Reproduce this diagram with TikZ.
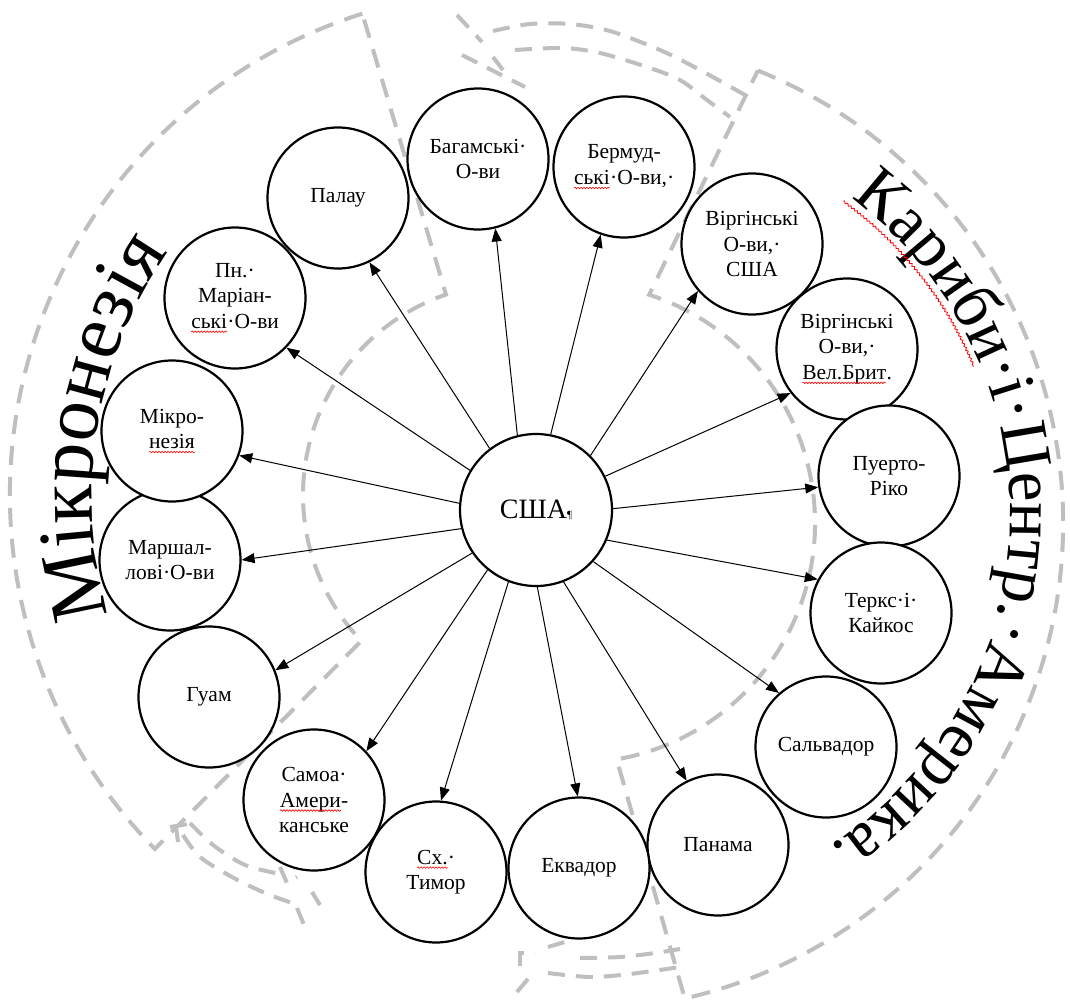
\documentclass[tikz,border=0pt]{standalone}
\usepackage{fontspec}
\setmainfont{Liberation Serif}
\usetikzlibrary{arrows.meta,decorations.text,decorations.pathmorphing}
\definecolor{dgray}{RGB}{191,191,191}
\newcommand\rwv[1]{\tikz[baseline=(w.base)]{\node[shape=rectangle,draw=none,fill=none,minimum size=0pt,inner sep=0pt,outer sep=0pt,anchor=base](w){#1};\draw[red,line width=0.6pt,decorate,decoration={snake,amplitude=0.8pt,segment length=3pt}]([yshift=-3.5pt]w.base west)--([yshift=-3.5pt]w.base east);}}
\begin{document}
\begin{tikzpicture}[x=1pt,y=1pt,
  cnode/.style={circle, draw, line width=2.2pt, fill=white, minimum size=141pt,
    inner sep=0pt, align=center, font=\fontsize{21.5}{25.5}\selectfont},
  arr/.style={line width=1pt, -{Triangle[length=13pt,width=10pt]}},
  dsh/.style={draw=dgray, line width=4pt, dash pattern=on 19pt off 12pt},
  frag/.style={draw=dgray, line width=4pt, dash pattern=on 17pt off 11pt}]
\useasboundingbox (0,0) rectangle (1070,-1003);

% dashed block arcs
\draw[dsh] ([shift={(515,-495)}]107.6:505) arc[start angle=107.6,end angle=224.5,radius=505]
  -- ([shift={(515,-495)}]223.5:212) arc[start angle=223.5,end angle=109,radius=212] -- cycle;
\draw[dsh] ([shift={(575,-523)}]68:488) arc[start angle=68,end angle=-77,radius=488]
  -- ([shift={(575,-523)}]-80:240) arc[start angle=-80,end angle=72,radius=240] -- cycle;

% top fragment
\draw[frag] (457,-15) -- (482,-42);
\draw[frag] plot[smooth] coordinates {(493,-31) (530,-24) (570,-24) (610,-31) (660,-50) (700,-70) (745,-95)};
\draw[frag] (462,-55) -- (525,-87);
\draw[frag] (493,-57) -- (503,-70);
\draw[frag] plot[smooth] coordinates {(515,-50) (563,-48) (600,-53) (647,-67) (680,-80) (707,-100) (730,-117)};
% bottom-left fragment
\draw[frag] (170,-827) -- (188,-824);
\draw[frag] (176,-827) -- (178,-842);
\draw[frag] plot[smooth] coordinates {(183,-835) (200,-857) (232,-877) (265,-893) (292,-903)};
\draw[frag] plot[smooth] coordinates {(190,-823) (213,-845) (245,-865) (280,-874)};
\draw[frag] (280,-867) -- (287,-883) -- (297,-877);
\draw[frag] (297,-908) -- (307,-932);
\draw[frag] (312,-892) -- (320,-905);
% bottom fragment
\draw[frag] (520,-966) -- (520,-953) -- (535,-953);
\draw[frag] (548,-947) -- (568,-941);
\draw[frag] plot[smooth] coordinates {(580,-958) (620,-957) (655,-953) (680,-949)};
\draw[frag] (517,-992) -- (533,-973);
\draw[frag] plot[smooth] coordinates {(548,-973) (590,-977) (630,-974) (680,-967)};

% nodes
\node[cnode, minimum size=152pt, font=\fontsize{28}{30}\selectfont] (usa) at (536,-510) {США{\fontsize{11}{11}\selectfont¶}};
\node[cnode] (pal) at (338,-198) {Палау};
\node[cnode] (bah) at (478,-159) {Багамські·\\О-ви};
\node[cnode] (ber) at (624,-167) {Бермуд-\\\rwv{ські}·О-ви,·};
\node[cnode] (vus) at (752,-244) {Віргінські\\О-ви,·\\США};
\node[cnode] (vbb) at (847,-349) {Віргінські\\О-ви,·\\\rwv{Вел.Брит}.};
\node[cnode] (pr) at (889,-476) {Пуерто-\\Ріко};
\node[cnode] (tc) at (881,-613) {Теркс·і·\\Кайкос};
\node[cnode] (sal) at (826,-747) {Сальвадор};
\node[cnode] (pan) at (718,-845) {Панама};
\node[cnode] (ecu) at (579,-868) {Еквадор};
\node[cnode] (tim) at (436,-872) {\rwv{Сх.}·\\Тимор};
\node[cnode] (sam) at (314,-800) {Самоа·\\\rwv{Амери}-\\канське};
\node[cnode] (gua) at (209,-697) {Гуам};
\node[cnode] (mar) at (170,-560) {Маршал-\\лові·О-ви};
\node[cnode] (mic) at (172,-431) {Мікро-\\\rwv{незія}};
\node[cnode] (nmi) at (235,-298) {Пн.·\\Маріан-\\\rwv{ські}·О-ви};

% arrows
\draw[arr] (usa.127) -- (pal.-64.5);
\draw[arr] (usa.104) -- (bah.-76);
\draw[arr] (usa.79.5) -- (ber.-109);
\draw[arr] (usa.45) -- (vus.-139);
\draw[arr] (usa.26) -- (vbb.-142);
\draw[arr] (usa.1) -- (pr.-171);
\draw[arr] (usa.-23) -- (tc.152);
\draw[arr] (usa.-42.5) -- (sal.131);
\draw[arr] (usa.-69.5) -- (pan.116);
\draw[arr] (usa.-89) -- (ecu.91);
\draw[arr] (usa.249.5) -- (tim.86);
\draw[arr] (usa.231.5) -- (sam.43);
\draw[arr] (usa.214) -- (gua.22);
\draw[arr] (usa.194.5) -- (mar.0);
\draw[arr] (usa.175.5) -- (mic.-20.6);
\draw[arr] (usa.149) -- (nmi.-44.5);

% curved titles
\path[decorate, decoration={text along path,
   text={|\fontsize{80}{80}\selectfont|Мікронезія}}]
  ([shift={(515,-495)}]196.5:423) arc[start angle=196.5,end angle=120,radius=423];
\path[decorate, decoration={text along path,
   text={|\fontsize{67}{67}\selectfont|Кариби·і·Центр.·Америка.}}]
  ([shift={(615,-515)}]53.3:395) arc[start angle=53.3,end angle=-80,radius=395];
\draw[red, line width=0.8pt, decorate, decoration={snake, amplitude=1pt, segment length=4pt}]
  ([shift={(615,-515)}]54:388) arc[start angle=54,end angle=22.5,radius=388];
\end{tikzpicture}
\end{document}
